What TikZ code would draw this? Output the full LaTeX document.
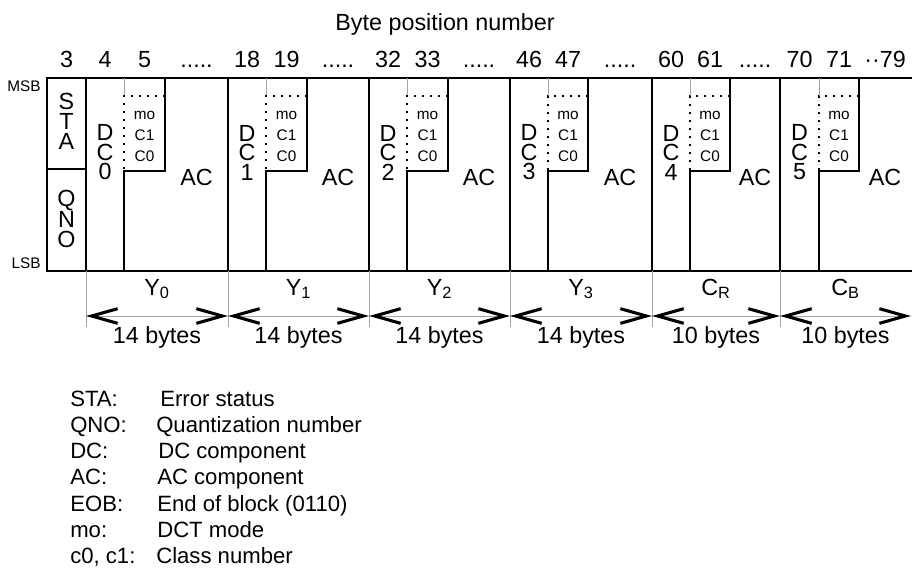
\documentclass[tikz,border=0pt]{standalone}
\usepackage{fontspec}
\setmainfont{Liberation Sans}
\usetikzlibrary{arrows.meta}
\newcommand{\bytedots}{.....}
\begin{document}
\begin{tikzpicture}[x=0.75pt, y=-0.75pt,
    frame/.style={line width=1pt},
    dotline/.style={line width=1.6pt, dash pattern=on 1.6pt off 4.4pt},
    guide/.style={gray!70, line width=0.5pt},
    span/.style={gray!70, line width=0.6pt, <->},
    >={Straight Barb[length=19.5pt, width=11pt, line width=2.3pt, color=black]},
    big/.style={font=\fontsize{17.5pt}{14.6pt}\selectfont, inner sep=0pt, align=center},
    small/.style={font=\fontsize{11.5pt}{13pt}\selectfont, inner sep=0pt, anchor=base},
    legend/.style={font=\fontsize{16.6pt}{18pt}\selectfont, inner sep=0pt, anchor=base west}]
        \useasboundingbox (0,0) rectangle (912,569);
        
        % 見出し
        \node[big, anchor=base] (title) at (445,30) {Byte position number};
        \node[big, anchor=base] (n3) at (66.5,67.5) {3};
        \node[small] (msb) at (24,91) {MSB};
        \node[small] (lsb) at (26,268) {LSB};
        
        % 枠
        \draw[frame] (912,78) -- (47,78) -- (47,271) -- (912,271);
        \draw[frame] (47,169) -- (86,169);
        \node[big, font=\fontsize{17.5pt}{15pt}\selectfont] (sta) at (66.5,121) {S\\T\\A};
        \node[big, font=\fontsize{17.5pt}{15pt}\selectfont] (qno) at (66.5,219) {Q\\N\\O};
        
        % ブロック
        \foreach \n/\bl/\dcr/\mor/\br/\blk/\len/\na/\nb/\tail in {
            0/86/124/165/228/{Y\textsubscript{0}}/14/4/5/\bytedots,
            1/228/266/307/369/{Y\textsubscript{1}}/14/18/19/\bytedots,
            2/369/407/448/510/{Y\textsubscript{2}}/14/32/33/\bytedots,
            3/510/548/588/652/{Y\textsubscript{3}}/14/46/47/\bytedots,
            4/652/690/730/780/{C\textsubscript{R}}/10/60/61/\bytedots,
            5/780/819/859/911/{C\textsubscript{B}}/10/70/71/{··79}} {
            \draw[frame] (\bl,78) -- (\bl,271);
            \draw[frame] (\dcr,271) -- (\dcr,171) -- (\mor,171) -- (\mor,78);
            \draw[guide] (\dcr,78) -- (\dcr,96);
            \draw[dotline] (\mor,96) -- (\dcr,96) -- (\dcr,171);
            \node[big] (dc\n) at ({(\bl+\dcr)/2},152.5) {D\\C\\\n};
            \node[small] (mo\n) at ({(\dcr+\mor)/2},119) {mo};
            \node[small] (cone\n) at ({(\dcr+\mor)/2},140.5) {C1};
            \node[small] (czero\n) at ({(\dcr+\mor)/2},161) {C0};
            \node[big] (ac\n) at ({(\mor+\br)/2},177) {AC};
            % 番号
            \node[big, anchor=base] (na\n) at ({(\bl+\dcr)/2},67.5) {\na};
            \node[big, anchor=base] (nb\n) at ({(\dcr+\mor)/2},67.5) {\nb};
            \node[big, anchor=base] (tail\n) at ({(\mor+\br)/2},67.5) {\tail};
            % 長さ
            \draw[guide] (\bl,271) -- (\bl,327);
            \node[big, anchor=base] (blk\n) at ({(\bl+\br)/2},295.5) {\blk};
            \coordinate (al\n) at (\bl,316);
            \coordinate (ar\n) at (\br,316);
            \draw[span] (al\n) -- (ar\n);
            \node[big, anchor=base] (len\n) at ({(\bl+\br)/2},343) {\len{} bytes};
        }
        
        % 凡例
        \foreach \k/\y/\x/\abbr/\desc in {
            1/406/160/STA:/Error status,
            2/432.3/156/QNO:/Quantization number,
            3/458.6/158/DC:/DC component,
            4/484.9/157/AC:/AC component,
            5/511.2/157/EOB:/End of block (0110),
            6/537.5/157/mo:/DCT mode,
            7/563.8/156/{c0, c1:}/Class number} {
            \node[legend] (abbr\k) at (70,\y) {\abbr};
            \node[legend] (desc\k) at (\x,\y) {\desc};
        }
        
    \end{tikzpicture}
\end{document}
